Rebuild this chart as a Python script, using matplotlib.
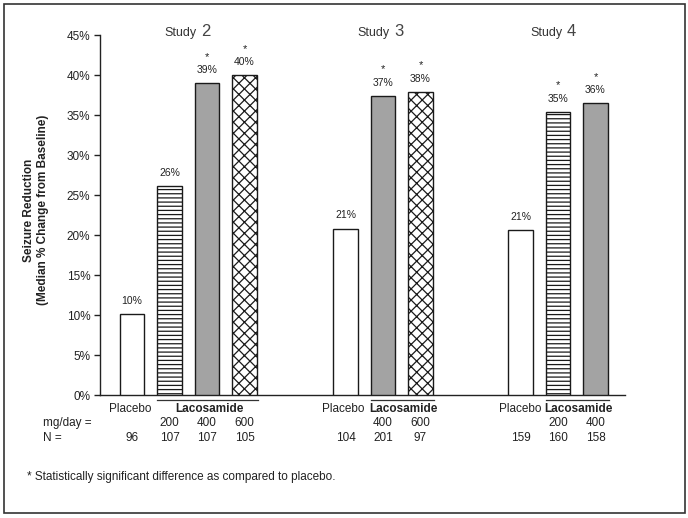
import matplotlib
matplotlib.use("Agg")
import matplotlib.pyplot as plt
from matplotlib.patches import Rectangle
from matplotlib.lines import Line2D

plt.rcParams['font.family'] = ['Liberation Sans', 'DejaVu Sans']
plt.rcParams['hatch.linewidth'] = 0.9

# ---------------- data ----------------
studies = ['2', '3', '4']
doses = [[None, 200, 400, 600], [None, 400, 600], [None, 200, 400]]
values = [[10.1, 26.1, 39.0, 40.0], [20.8, 37.4, 37.9], [20.6, 35.4, 36.5]]
pct_labels = [['10%', '26%', '39%', '40%'], ['21%', '37%', '38%'], ['21%', '35%', '36%']]
significant = [[False, False, True, True], [False, True, True], [False, True, True]]
n_values = [[96, 107, 107, 105], [104, 201, 97], [159, 160, 158]]
yticks = [0, 5, 10, 15, 20, 25, 30, 35, 40, 45]
ytick_labels = ['0%', '5%', '10%', '15%', '20%', '25%', '30%', '35%', '40%', '45%']
footnote = '* Statistically significant difference as compared to placebo.'

# ---------------- layout (pixel based) ----------------
W, H = 688, 518
fig = plt.figure(figsize=(W / 100, H / 100), dpi=100)
ax_left, ax_right, ax_top, ax_bot = 100, 625, 35, 395
ax = fig.add_axes([ax_left / W, (H - ax_bot) / H, (ax_right - ax_left) / W, (ax_bot - ax_top) / H])
ax.set_xlim(ax_left, ax_right)   # x data units == figure pixels
ax.set_ylim(0, 45)

def fx(px):
    return px / W

def fy(py):
    return (H - py) / H

group_starts = [132, 345.5, 520.5]
step = 37.5
bar_w = 24.5
styles = {
    None: dict(facecolor='white', hatch=None),
    200: dict(facecolor='white', hatch='----'),
    400: dict(facecolor='#a3a3a3', hatch=None),
    600: dict(facecolor='white', hatch='xxx'),
}
edge = '#1a1a1a'
txt = '#222222'

title_split = [197, 390, 563]
placebo_x = [130, 343, 520]

for g in range(len(studies)):
    xs = [group_starts[g] + i * step for i in range(len(values[g]))]
    for i, (x, v) in enumerate(zip(xs, values[g])):
        st = styles[doses[g][i]]
        ax.bar(x, v, width=bar_w, facecolor=st['facecolor'], hatch=st['hatch'],
               edgecolor=edge, linewidth=1.0, zorder=3)
        ax.annotate(pct_labels[g][i], (x, v), xytext=(0, 9.5), textcoords='offset points',
                    ha='center', va='center', fontsize=7.5, color=txt)
        if significant[g][i]:
            ax.annotate('*', (x, v), xytext=(0, 19), textcoords='offset points',
                        ha='center', va='center', fontsize=8, color=txt)
        # dose and N rows
        if doses[g][i] is not None:
            fig.text(fx(x), fy(423), str(doses[g][i]), ha='center', va='center',
                     fontsize=8.5, color=txt)
        fig.text(fx(x), fy(438), str(n_values[g][i]), ha='center', va='center',
                 fontsize=8.5, color=txt)
    # Study titles
    fig.text(fx(title_split[g]), fy(33), 'Study', ha='right', va='center',
             fontsize=9, color='#333333')
    fig.text(fx(title_split[g] + 4), fy(32), studies[g], ha='left', va='center',
             fontsize=12, color='#444444')
    # Placebo / Lacosamide labels
    fig.text(fx(placebo_x[g]), fy(409), 'Placebo', ha='center', va='center',
             fontsize=8.5, color=txt)
    lac_l = xs[1] - bar_w / 2
    lac_r = xs[-1] + bar_w / 2
    fig.text(fx((lac_l + lac_r) / 2 + 2), fy(409), 'Lacosamide', ha='center', va='center',
             fontsize=8.5, fontweight='bold', color=txt)
    fig.add_artist(Line2D([fx(lac_l), fx(lac_r + 1)], [fy(399.5), fy(399.5)],
                          color='#333333', linewidth=0.9))

fig.text(fx(43), fy(423), 'mg/day =', ha='left', va='center', fontsize=8.5, color=txt)
fig.text(fx(43), fy(438), 'N =', ha='left', va='center', fontsize=8.5, color=txt)
fig.text(fx(27), fy(477), footnote, ha='left', va='center', fontsize=8.5, color=txt)

# axes styling
ax.set_yticks(yticks)
ax.set_yticklabels(ytick_labels, fontsize=8.5, color=txt)
ax.set_xticks([])
for s in ['top', 'right']:
    ax.spines[s].set_visible(False)
for s in ['left', 'bottom']:
    ax.spines[s].set_color('#222222')
    ax.spines[s].set_linewidth(1.0)
ax.tick_params(axis='y', direction='out', length=4, width=1.0, color='#222222', pad=3)
ax.patch.set_alpha(0)

fig.text(fx(36), fy(210), 'Seizure Reduction\n(Median % Change from Baseline)',
         rotation=90, ha='center', va='center', fontsize=8.5, fontweight='bold',
         color=txt, multialignment='center', linespacing=1.15)

# outer border
fig.add_artist(Rectangle((fx(4), fy(513)), fx(685) - fx(4), fy(4) - fy(513),
                         transform=fig.transFigure, fill=False, edgecolor='#333333',
                         linewidth=1.2))

fig.savefig('out.png', dpi=100)
